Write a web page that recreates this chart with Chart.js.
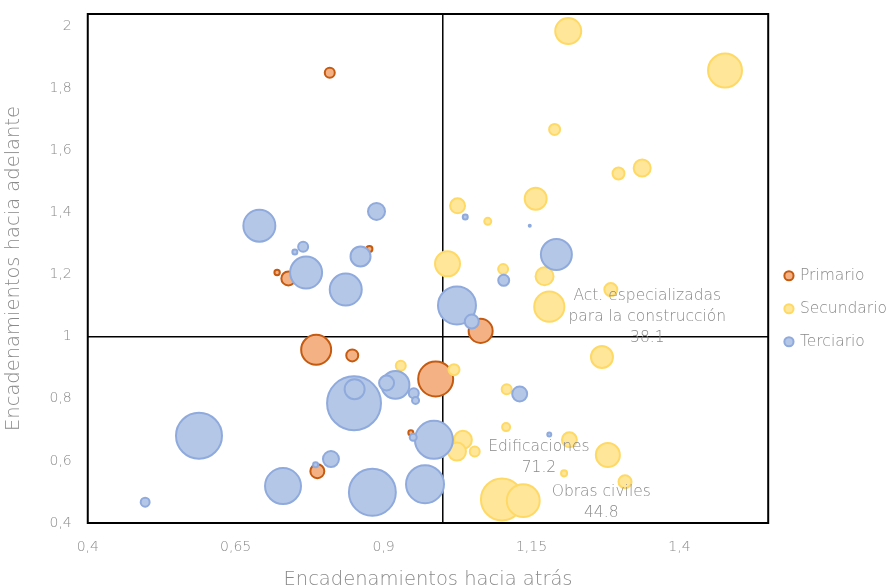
<!DOCTYPE html>
<html>
<head>
<meta charset="utf-8">
<script src="https://cdn.jsdelivr.net/npm/chart.js@4.4.0/dist/chart.umd.min.js"></script>
<style>
  html, body { margin: 0; padding: 0; background: #fff; }
  #wrap { width: 893px; height: 588px; }
</style>
</head>
<body>
<div id="wrap"><canvas id="linkageChart" width="893" height="588"></canvas></div>
<script>
const sectorNames = ['Primario', 'Secundario', 'Terciario'];

// Primario
const primX = [0.809, 0.876, 0.720, 0.739, 1.064, 0.786, 0.847, 0.988, 0.946, 0.788];
const primY = [1.851, 1.283, 1.207, 1.188, 1.019, 0.958, 0.940, 0.864, 0.691, 0.567];
const primSize = [5.3, 2.4, 2.0, 9.4, 24.9, 37.6, 7.2, 50.3, 1.8, 9.4];

// Secundario
const secX = [1.212, 1.477, 1.189, 1.297, 1.337, 1.157, 1.025, 1.076, 1.008, 1.102, 1.172, 1.284, 1.180, 1.269,
  1.019, 0.929, 1.108, 1.107, 1.214, 1.034, 1.024, 1.054, 1.279, 1.205, 1.308, 1.100, 1.136];
const secY = [1.985, 1.858, 1.668, 1.526, 1.544, 1.445, 1.422, 1.372, 1.235, 1.218, 1.195, 1.152, 1.097, 0.935,
  0.894, 0.907, 0.831, 0.709, 0.668, 0.668, 0.630, 0.630, 0.619, 0.560, 0.533, 0.476, 0.472];
const secSize = [28.8, 47.6, 6.2, 7.2, 13.3, 21.2, 10.6, 3.0, 26.8, 5.3, 14.7, 8.3, 38.1, 21.2,
  6.2, 5.3, 5.3, 3.7, 10.6, 14.7, 14.7, 5.3, 24.9, 2.4, 8.3, 71.2, 44.8];
const secNames = ['', '', '', '', '', '', '', '', '', '', '', '', 'Act. especializadas para la construcción', '',
  '', '', '', '', '', '', '', '', '', '', '', 'Edificaciones', 'Obras civiles'];

// Terciario
const terX = [0.690, 0.888, 0.764, 0.750, 0.861, 0.769, 0.836, 1.038, 1.147, 1.192, 1.103, 1.024, 1.049, 0.850, 0.851,
  0.920, 0.905, 0.951, 0.954, 0.588, 0.950, 0.985, 0.811, 0.785, 0.730, 0.881, 0.970, 0.497, 1.130, 1.180];
const terY = [1.358, 1.404, 1.290, 1.273, 1.259, 1.207, 1.152, 1.386, 1.358, 1.265, 1.182, 1.101, 1.049, 0.786, 0.831,
  0.845, 0.851, 0.818, 0.795, 0.681, 0.676, 0.668, 0.606, 0.588, 0.519, 0.499, 0.525, 0.467, 0.816, 0.685];
const terSize = [42.5, 13.3, 5.3, 1.8, 17.8, 42.5, 42.5, 1.8, 0.6, 40, 6.2, 58.8, 9.4, 115, 17.8,
  33, 10.6, 5.3, 3.0, 84.7, 3.0, 58.8, 11.9, 1.8, 53, 88, 58.8, 4.4, 10.6, 1.3];

const xTicks = [0.4, 0.65, 0.9, 1.15, 1.4];
const yTicks = [0.4, 0.6, 0.8, 1, 1.2, 1.4, 1.6, 1.8, 2];
const refX = 1;
const refY = 1;

const textColor = '#8a8a8a';
Chart.defaults.font.family = '"DejaVu Sans", "Liberation Sans", sans-serif';
Chart.defaults.font.weight = 200;
Chart.defaults.color = textColor;

// bubble area follows the size value
const toRadius = v => 2.607 * Math.sqrt(v) - 1;

function buildPoints(xs, ys, sizes, names) {
  const pts = xs.map((x, i) => ({ x: x, y: ys[i], r: toRadius(sizes[i]), v: sizes[i], name: names ? names[i] : '' }));
  // bigger bubbles behind the small ones
  return pts.sort((a, b) => b.v - a.v);
}

const fmt = v => String(v).replace('.', ',');

// label text next to the named bubbles
const bubbleLabels = {
  'Edificaciones': { lines: ['Edificaciones'], dx: 37, dy: -52 },
  'Obras civiles': { lines: ['Obras civiles'], dx: 78, dy: -9 },
  'Act. especializadas para la construcción': { lines: ['Act. especializadas', 'para la construcción'], dx: 98, dy: -11 }
};

const frameAndCross = {
  id: 'frameAndCross',
  beforeDatasetsDraw(chart) {
    const { ctx, chartArea: a, scales: { x, y } } = chart;
    const px = x.getPixelForValue(refX);
    const py = y.getPixelForValue(refY);
    ctx.save();
    ctx.strokeStyle = '#000';
    ctx.lineWidth = 1.5;
    ctx.beginPath();
    ctx.moveTo(px, a.top);
    ctx.lineTo(px, a.bottom);
    ctx.moveTo(a.left, py);
    ctx.lineTo(a.right, py);
    ctx.stroke();
    ctx.lineWidth = 2;
    ctx.strokeRect(a.left, a.top, a.width, a.height);
    ctx.restore();
  }
};

const nameLabels = {
  id: 'nameLabels',
  afterDatasetsDraw(chart) {
    const { ctx } = chart;
    ctx.save();
    ctx.font = '200 15.5px "DejaVu Sans", sans-serif';
    ctx.fillStyle = textColor;
    ctx.textAlign = 'center';
    ctx.textBaseline = 'middle';
    chart.data.datasets.forEach((ds, di) => {
      const meta = chart.getDatasetMeta(di);
      ds.data.forEach((p, i) => {
        const cfg = bubbleLabels[p.name];
        if (!cfg) return;
        const el = meta.data[i];
        const lines = cfg.lines.concat([p.v.toFixed(1)]);
        lines.forEach((t, k) => {
          ctx.fillText(t, el.x + cfg.dx, el.y + cfg.dy + k * 21);
        });
      });
    });
    ctx.restore();
  }
};

new Chart(document.getElementById('linkageChart'), {
  type: 'bubble',
  data: {
    datasets: [
      {
        label: sectorNames[0],
        data: buildPoints(primX, primY, primSize),
        backgroundColor: '#F4B183',
        borderColor: '#C55A11',
        borderWidth: 2,
        order: 3
      },
      {
        label: sectorNames[1],
        data: buildPoints(secX, secY, secSize, secNames),
        backgroundColor: '#FFE699',
        borderColor: '#FFD966',
        borderWidth: 2,
        order: 2
      },
      {
        label: sectorNames[2],
        data: buildPoints(terX, terY, terSize),
        backgroundColor: '#B4C7E7',
        borderColor: '#8FAADC',
        borderWidth: 2,
        order: 1
      }
    ]
  },
  options: {
    responsive: false,
    animation: false,
    devicePixelRatio: 1,
    layout: { autoPadding: false, padding: { top: 14, right: -4, bottom: 0, left: 0 } },
    plugins: {
      legend: {
        position: 'right',
        reverse: true,
        title: { display: true, text: '', font: { size: 14, lineHeight: 1 }, padding: { top: 0, bottom: 1.5 } },
        labels: {
          usePointStyle: true,
          pointStyle: 'circle',
          boxWidth: 6.5,
          boxHeight: 6.5,
          padding: 17.5,
          color: textColor,
          font: { size: 15.5 }
        }
      },
      tooltip: { enabled: false }
    },
    scales: {
      x: {
        type: 'linear',
        min: 0.4,
        max: 1.55,
        afterBuildTicks: s => { s.ticks = xTicks.map(v => ({ value: v })); },
        grid: { display: false, drawTicks: true, tickLength: 16 },
        border: { display: false },
        ticks: { padding: 0, color: textColor, font: { size: 14 }, callback: fmt },
        title: {
          display: true,
          text: 'Encadenamientos hacia atrás',
          color: textColor,
          font: { size: 19.5, lineHeight: 0.8 },
          padding: { top: 16.6, bottom: 0 }
        }
      },
      y: {
        type: 'linear',
        min: 0.4,
        max: 2.04,
        afterBuildTicks: s => { s.ticks = yTicks.map(v => ({ value: v })); },
        grid: { display: false, drawTicks: true, tickLength: 16 },
        border: { display: false },
        ticks: { padding: 0, color: textColor, font: { size: 14 }, callback: fmt },
        title: {
          display: true,
          text: 'Encadenamientos hacia adelante',
          color: textColor,
          font: { size: 19.5, lineHeight: 1 },
          padding: { top: 4, bottom: 26 }
        }
      }
    }
  },
  plugins: [frameAndCross, nameLabels]
});
</script>
</body>
</html>
